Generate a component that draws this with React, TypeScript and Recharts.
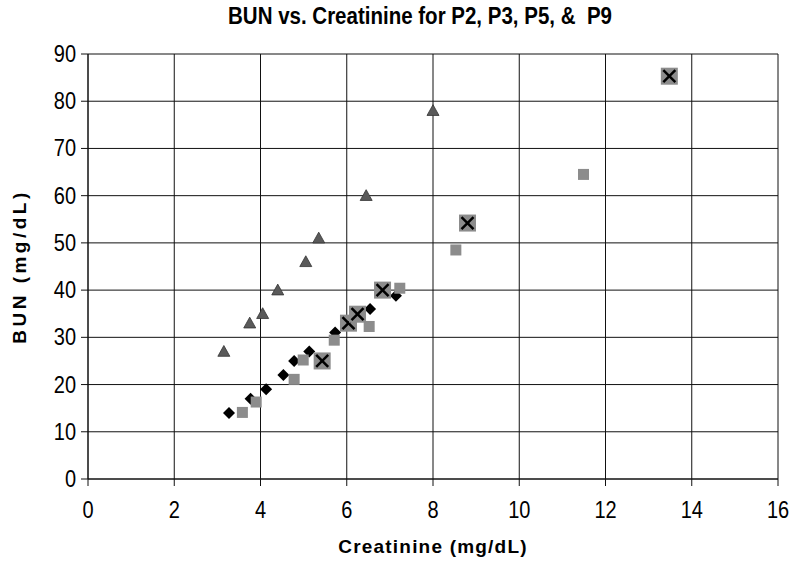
import React from "react"
import { ScatterChart, Scatter, XAxis, YAxis, CartesianGrid, Label } from "recharts"

// P2 - diamonds
const p2Creat = [3.27, 3.77, 4.13, 4.53, 4.78, 5.13, 5.73, 6.54, 7.14]
const p2Bun = [14, 17, 19, 22, 25, 27, 31, 36, 38.8]

// P3 - squares
const p3Creat = [3.58, 3.9, 4.78, 4.99, 5.71, 6.52, 7.23, 8.53, 11.49]
const p3Bun = [14.1, 16.3, 21.1, 25.2, 29.4, 32.3, 40.4, 48.5, 64.5]

// P5 - triangles
const p5Creat = [3.15, 3.75, 4.05, 4.4, 5.05, 5.35, 6.45, 8.0]
const p5Bun = [27, 33, 35, 40, 46, 51, 60, 78]

// P9 - crosses
const p9Creat = [5.43, 6.04, 6.25, 6.83, 8.8, 13.48]
const p9Bun = [25, 33, 34.9, 40, 54.2, 85.3]

const xTicks = [0, 2, 4, 6, 8, 10, 12, 14, 16]
const yTicks = [0, 10, 20, 30, 40, 50, 60, 70, 80, 90]

const toPoints = (xs: number[], ys: number[]) => xs.map((x, i) => ({ x, y: ys[i] }))

const p2 = toPoints(p2Creat, p2Bun)
const p3 = toPoints(p3Creat, p3Bun)
const p5 = toPoints(p5Creat, p5Bun)
const p9 = toPoints(p9Creat, p9Bun)

const FONT = "'Liberation Sans', Arial, sans-serif"

const Diamond = (props: any) => {
  const { cx, cy } = props
  const r = 6
  return <polygon points={`${cx},${cy - r} ${cx + r},${cy} ${cx},${cy + r} ${cx - r},${cy}`} fill="#000" />
}

const Square = (props: any) => {
  const { cx, cy } = props
  const s = 11
  return <rect x={cx - s / 2} y={cy - s / 2} width={s} height={s} fill="#8c8c8c" />
}

const Triangle = (props: any) => {
  const { cx, cy } = props
  const r = 6
  return (
    <polygon
      points={`${cx},${cy - r} ${cx + r},${cy + r * 0.8} ${cx - r},${cy + r * 0.8}`}
      fill="#5a5a5a"
      stroke="#333"
      strokeWidth={0.8}
    />
  )
}

const Cross = (props: any) => {
  const { cx, cy } = props
  const s = 17
  const r = 6
  return (
    <g>
      <rect x={cx - s / 2} y={cy - s / 2} width={s} height={s} fill="#8c8c8c" />
      <line x1={cx - r} y1={cy - r} x2={cx + r} y2={cy + r} stroke="#000" strokeWidth={2.5} />
      <line x1={cx - r} y1={cy + r} x2={cx + r} y2={cy - r} stroke="#000" strokeWidth={2.5} />
    </g>
  )
}

// tick labels in the scan are a little taller than they are wide
const XTick = (props: any) => {
  const { x, y, payload } = props
  return (
    <text transform={`translate(${x},${y + 30}) scale(1,1.2)`} textAnchor="middle" fill="#000" fontSize={20} fontFamily={FONT}>
      {payload.value}
    </text>
  )
}

const YTick = (props: any) => {
  const { x, y, payload } = props
  return (
    <text transform={`translate(${x - 3},${y + 8}) scale(1,1.2)`} textAnchor="end" fill="#000" fontSize={20} fontFamily={FONT}>
      {payload.value}
    </text>
  )
}

export default function App() {
  return (
    <div style={{ position: "absolute", left: 0, top: 0, width: 798, height: 569, background: "#fff", fontFamily: FONT }}>
      <div
        style={{
          position: "absolute",
          left: 0,
          width: 798,
          top: 4,
          textAlign: "center",
          fontWeight: "bold",
          fontSize: 20.5,
          color: "#000",
          paddingLeft: 42,
          boxSizing: "border-box",
          transform: "scaleY(1.15)",
        }}
      >
        BUN vs. Creatinine for P2, P3, P5, &amp;&nbsp; P9
      </div>
      <ScatterChart width={798} height={569} margin={{ top: 54, right: 20, bottom: 0, left: 0 }}>
        <CartesianGrid stroke="#111" strokeWidth={1} horizontalValues={yTicks} verticalValues={xTicks} />
        <XAxis
          type="number"
          dataKey="x"
          domain={[0, 16]}
          ticks={xTicks}
          height={90}
          stroke="#111"
          tickSize={7}
          tick={<XTick />}
        >
          <Label
            value="Creatinine (mg/dL)"
            position="insideBottom"
            offset={16}
            style={{ fill: "#000", fontSize: 19, fontWeight: "bold", fontFamily: FONT, letterSpacing: 1.2 }}
          />
        </XAxis>
        <YAxis
          type="number"
          dataKey="y"
          domain={[0, 90]}
          ticks={yTicks}
          width={88}
          stroke="#111"
          tickSize={7}
          tick={<YTick />}
        >
          <Label
            value="BUN (mg/dL)"
            angle={-90}
            position="insideLeft"
            offset={19}
            style={{ fill: "#000", fontSize: 19, fontWeight: "bold", fontFamily: FONT, textAnchor: "middle", letterSpacing: 3.5 }}
          />
        </YAxis>
        <Scatter name="P2" data={p2} shape={Diamond} isAnimationActive={false} />
        <Scatter name="P3" data={p3} shape={Square} isAnimationActive={false} />
        <Scatter name="P5" data={p5} shape={Triangle} isAnimationActive={false} />
        <Scatter name="P9" data={p9} shape={Cross} isAnimationActive={false} />
      </ScatterChart>
    </div>
  )
}
